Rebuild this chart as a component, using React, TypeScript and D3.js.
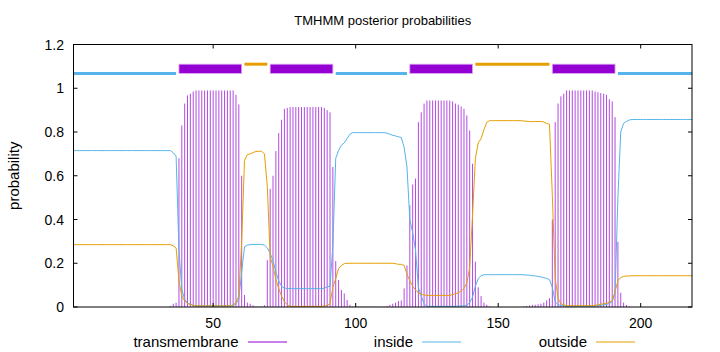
import React from 'react';
import * as d3 from 'd3';

// per-residue posterior probabilities, residues 1..218
const transmembrane = [
  0,0,0,0,0,0,0,0,0,0, 0,0,0,0,0,0,0,0,0,0, 0,0,0,0,0,0,0,0,0,0, 0,0,0,0,
  0.005,0.015,0.02,0.68,0.83,0.93,0.967,0.975,0.985,
  0.99,0.99,0.99,0.99,0.99,0.99,0.99,0.99,0.99,0.99,0.99,0.99,0.99,0.99,
  0.97,0.926,0.60,0.055,0.02,0.015,0.008,0.003,0.002,0.003,0.008,0.214,0.54,0.60,0.713,0.795,0.856,0.906,0.91,
  0.914,0.914,0.914,0.914,0.914,0.914,0.914,0.914,0.914,0.914,0.914,0.914,
  0.91,0.90,0.89,0.64,0.21,0.123,0.078,0.062,0.032,0.01,
  0.002,0.002,0.002,0.002,0.002,0.002,0.002,0.002,0.002,0.002,0.002,0.002,
  0.005,0.01,0.015,0.02,0.027,0.03,0.085,0.19,0.465,0.56,0.587,0.845,0.89,0.93,
  0.944,0.944,0.944,0.944,0.944,0.944,0.944,0.944,0.944,
  0.94,0.93,0.925,0.917,0.906,0.876,0.807,0.655,0.207,0.09,0.05,0.02,0.01,0.003,
  0,0,0,0,0,0,0,0,0,0,0,
  0.003,0.005,0.007,0.01,0.01,0.012,0.015,0.02,0.03,0.04,0.40,0.845,0.93,0.963,0.975,
  0.99,0.99,0.99,0.99,0.99,0.99,0.99,0.99,0.99,0.99,
  0.985,0.982,0.978,0.975,0.97,0.95,0.94,0.868,0.298,0.065,0.02,0.01,0.003,
  0,0,0,0,0,0,0,0,0,0,0,0,0,0,0,0,0,0,0,0,0,0,
];

const inside = [
  0.715,0.715,0.715,0.715,0.715,0.715,0.715,0.715,0.715,0.715,
  0.715,0.715,0.715,0.715,0.715,0.715,0.715,0.715,0.715,0.715,
  0.715,0.715,0.715,0.715,0.715,0.715,0.715,0.715,0.715,0.715,
  0.715,0.715,0.715,0.715,0.715,
  0.705,0.69,0.26,0.08,0.035,0.018,0.013,0.008,
  0.005,0.005,0.005,0.005,0.005,0.005,0.005,0.005,0.005,0.005,0.005,0.005,0.005,
  0.006,0.015,0.035,0.16,0.275,0.283,0.285,
  0.286,0.286,0.286,0.286,
  0.283,0.27,0.245,0.214,0.16,0.12,0.095,0.086,0.085,
  0.084,0.084,0.084,0.084,0.084,0.084,0.084,0.084,0.084,0.084,0.084,0.084,
  0.086,0.092,0.095,0.28,0.68,0.716,0.74,0.75,0.77,0.79,
  0.797,0.797,0.797,0.797,0.797,0.797,0.797,0.797,0.797,0.797,0.797,0.797,
  0.795,0.79,0.785,0.782,0.778,0.775,0.73,0.64,0.40,0.34,0.26,0.09,0.05,0.015,
  0.003,0.003,0.003,0.003,0.003,0.003,0.003,0.003,0.003,
  0.003,0.004,0.004,0.005,0.006,0.008,0.02,0.045,0.095,0.13,0.143,0.147,0.148,0.148,
  0.148,0.148,0.148,0.148,0.148,0.148,0.148,0.148,0.148,0.148,0.148,
  0.147,0.146,0.145,0.143,0.142,0.14,0.137,0.134,0.131,0.125,0.09,0.025,0.01,0.007,0.005,
  0.004,0.004,0.004,0.004,0.004,0.004,0.004,0.004,0.004,0.004,
  0.005,0.006,0.008,0.01,0.012,0.016,0.024,0.06,0.50,0.80,0.84,0.848,0.855,
  0.857,0.857,0.857,0.857,0.857,0.857,0.857,0.857,0.857,0.857,0.857,
  0.857,0.857,0.857,0.857,0.857,0.857,0.857,0.857,0.857,0.857,0.857,
];

const outside = [
  0.285,0.285,0.285,0.285,0.285,0.285,0.285,0.285,0.285,0.285,
  0.285,0.285,0.285,0.285,0.285,0.285,0.285,0.285,0.285,0.285,
  0.285,0.285,0.285,0.285,0.285,0.285,0.285,0.285,0.285,0.285,
  0.285,0.285,0.285,0.285,0.285,
  0.28,0.27,0.12,0.05,0.028,0.015,0.012,0.007,
  0.005,0.005,0.005,0.005,0.005,0.005,0.005,0.005,0.005,0.005,0.005,0.005,0.005,
  0.01,0.02,0.05,0.30,0.67,0.697,0.70,
  0.706,0.711,0.712,0.712,
  0.70,0.55,0.23,0.186,0.127,0.085,0.049,0.025,0.01,
  0.003,0.003,0.003,0.003,0.003,0.003,0.003,0.003,0.003,0.003,0.003,0.003,
  0.004,0.008,0.015,0.09,0.13,0.175,0.19,0.198,0.2,0.2,
  0.2,0.2,0.2,0.2,0.2,0.2,0.2,0.2,0.2,0.2,0.2,0.2,
  0.2,0.2,0.2,0.198,0.195,0.195,0.19,0.15,0.12,0.095,0.078,0.065,0.058,0.055,
  0.053,0.053,0.053,0.053,0.053,0.053,0.053,0.053,0.053,
  0.057,0.06,0.065,0.072,0.085,0.11,0.18,0.42,0.68,0.75,0.77,0.81,0.845,0.852,
  0.852,0.852,0.852,0.852,0.852,0.852,0.852,0.852,0.852,0.852,0.852,
  0.85,0.849,0.848,0.847,0.848,0.848,0.848,0.846,0.839,0.835,0.51,0.13,0.04,0.015,0.01,
  0.006,0.006,0.006,0.006,0.006,0.006,0.006,0.006,0.006,0.006,
  0.008,0.01,0.013,0.015,0.017,0.022,0.03,0.07,0.12,0.135,0.14,0.142,0.142,
  0.143,0.143,0.143,0.143,0.143,0.143,0.143,0.143,0.143,0.143,0.143,
  0.143,0.143,0.143,0.143,0.143,0.143,0.143,0.143,0.143,0.143,0.143,
];

const residues = transmembrane.map((_, i) => i + 1);

// predicted topology segments (start, end residue)
const tmSegments = [[38, 60], [70, 92], [119, 141], [169, 191]];
const insideSegments = [[1, 37], [93, 118], [192, 218]];
const outsideSegments = [[61, 69], [142, 168]];

const xTicks = [50, 100, 150, 200];
const yTicks = [0, 0.2, 0.4, 0.6, 0.8, 1, 1.2];
const yTickLabels = ['0', '0.2', '0.4', '0.6', '0.8', '1', '1.2'];
const legendLabels = ['transmembrane', 'inside', 'outside'];

const TM_COLOR = '#9400D3';
const IN_COLOR = '#56B4E9';
const OUT_COLOR = '#E69F00';
const FONT = '"Liberation Sans", Arial, Helvetica, sans-serif';

export default function App() {
  const W = 720, H = 352;
  const x = d3.scaleLinear().domain([1, 218]).range([73.5, 692]);
  const y = d3.scaleLinear().domain([0, 1.2]).range([307, 44.5]);
  const [x0, x1] = x.range();
  const [y0, y1] = y.range();

  const lineOf = (vals: number[]) =>
    d3.line<number>().x((_, i) => x(residues[i])).y((d) => y(d))(vals) || '';

  const barTop = 1.11, barBot = 1.068;
  const legendY = 342;
  const legend = [
    { label: legendLabels[0], color: TM_COLOR, textEnd: 238.5, l0: 248, l1: 287 },
    { label: legendLabels[1], color: IN_COLOR, textEnd: 413, l0: 422, l1: 461 },
    { label: legendLabels[2], color: OUT_COLOR, textEnd: 587, l0: 596, l1: 635 },
  ];

  return (
    <svg width={W} height={H} style={{ position: 'absolute', left: 0, top: 0, background: '#fff' }}
      fontFamily={FONT}>
      <rect x={0} y={0} width={W} height={H} fill="#fff" />
      <text x={(x0 + x1) / 2} y={24.5} textAnchor="middle" fontSize={13}>TMHMM posterior probabilities</text>

      {/* impulses */}
      <g stroke={TM_COLOR} strokeWidth={1} opacity={0.7}>
        {residues.map((r, i) => transmembrane[i] > 0 ? (
          <line key={r} x1={x(r)} x2={x(r)} y1={y(0)} y2={y(transmembrane[i])} />
        ) : null)}
      </g>

      <path d={lineOf(inside)} fill="none" stroke={IN_COLOR} strokeWidth={1} />
      <path d={lineOf(outside)} fill="none" stroke={OUT_COLOR} strokeWidth={1} />

      {/* topology bars */}
      {insideSegments.map(([a, b], i) => (
        <line key={'i' + i} x1={x(a)} x2={x(b)} y1={y(barBot)} y2={y(barBot)} stroke={IN_COLOR} strokeWidth={3} />
      ))}
      {outsideSegments.map(([a, b], i) => (
        <line key={'o' + i} x1={x(a)} x2={x(b)} y1={y(barTop)} y2={y(barTop)} stroke={OUT_COLOR} strokeWidth={3} />
      ))}
      {tmSegments.map(([a, b], i) => (
        <rect key={'t' + i} x={x(a)} y={y(barTop)} width={x(b) - x(a)} height={y(barBot) - y(barTop)}
          fill={TM_COLOR} stroke="#d9a6f0" strokeWidth={0.8} />
      ))}

      {/* border */}
      <rect x={x0} y={y1} width={x1 - x0} height={y0 - y1} fill="none" stroke="#000" strokeWidth={1} />

      {/* y ticks */}
      {yTicks.map((t, i) => (
        <g key={'yt' + i}>
          <line x1={x0} x2={x0 + 4} y1={y(t)} y2={y(t)} stroke="#000" />
          <line x1={x1} x2={x1 - 4} y1={y(t)} y2={y(t)} stroke="#000" />
          <text x={64} y={y(t)} dy="0.36em" textAnchor="end" fontSize={14}>{yTickLabels[i]}</text>
        </g>
      ))}
      {/* x ticks */}
      {xTicks.map((t) => (
        <g key={'xt' + t}>
          <line x1={x(t)} x2={x(t)} y1={y0} y2={y0 - 4} stroke="#000" />
          <line x1={x(t)} x2={x(t)} y1={y1} y2={y1 + 4} stroke="#000" />
          <text x={x(t)} y={328} textAnchor="middle" fontSize={14}>{t}</text>
        </g>
      ))}

      <text transform={`translate(19,${(y0 + y1) / 2}) rotate(-90)`} textAnchor="middle" fontSize={15}>probability</text>

      {legend.map((l) => (
        <g key={l.label}>
          <text x={l.textEnd} y={legendY} dy="0.36em" textAnchor="end" fontSize={15}>{l.label}</text>
          <line x1={l.l0} x2={l.l1} y1={legendY} y2={legendY} stroke={l.color} strokeWidth={1} />
        </g>
      ))}
    </svg>
  );
}
